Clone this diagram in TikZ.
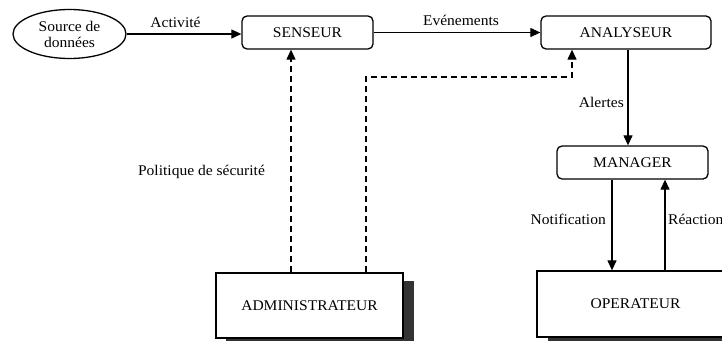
\documentclass[tikz,border=0pt]{standalone}
\usepackage{fontspec}
\setmainfont{Liberation Serif}[FakeStretch=1.05]
\usetikzlibrary{shapes.geometric,arrows.meta}
\begin{document}
\begin{tikzpicture}[x=1pt,y=-1pt,
  every node/.style={font=\fontsize{14.8}{16}\selectfont, inner sep=0pt},
  rbox/.style={draw, line width=1.3pt, rounded corners=5pt, minimum height=33pt},
  sbox/.style={draw, line width=1.3pt, fill=white, minimum height=65pt},
  shadowbox/.style={fill=black!80, draw=none},
  arr/.style={line width=1.2pt, -{Triangle[length=10pt,width=9pt]}},
  darr/.style={line width=1.2pt, dash pattern=on 6pt off 4pt, -{Triangle[length=10pt,width=9pt]}},
  lbl/.style={}]
\useasboundingbox (0,0) rectangle (722,340);
\clip (0,0) rectangle (722,340);
% nodes
\node[draw, ellipse, line width=1.3pt, minimum width=113pt, minimum height=49pt, align=center] (src) at (69.5,34) {Source de\\données};
\node[rbox, minimum width=131pt] (sens) at (307.5,32.5) {SENSEUR};
\node[rbox, minimum width=170pt] (ana) at (626,32.5) {ANALYSEUR};
\node[rbox, minimum width=151pt] (man) at (632.5,162.5) {MANAGER};
% shadows
\fill[shadowbox] (226,281) rectangle (414,346);
\fill[shadowbox] (548,279) rectangle (745,346);
\node[sbox, minimum width=187pt] (adm) at (309.5,305.5) {ADMINISTRATEUR};
\node[sbox, minimum width=197pt, minimum height=66pt] (op) at (635.5,304) {OPERATEUR};
% helper coordinates
\coordinate (xa) at (291,0);
\coordinate (xb) at (366,77);
\coordinate (xc) at (572,77);
\coordinate (xn) at (612,0);
\coordinate (xr) at (665,0);
\coordinate (xl) at (628,0);
% connectors
\draw[arr] (src.east) -- (sens.west |- src.east);
\draw[arr] (sens.east) -- (ana.west |- sens.east);
\draw[arr] (ana.south -| xl) -- (man.north -| xl);
\draw[arr] (man.south -| xn) -- (op.north -| xn);
\draw[arr] (op.north -| xr) -- (man.south -| xr);
\draw[darr] (adm.north -| xa) -- (sens.south -| xa);
\draw[darr] (adm.north -| xb) -- (xb) -- (xc) -- (ana.south -| xc);
% labels
\node[lbl] (l1) at (175.5,22) {Activité};
\node[lbl] (l2) at (461,20) {Evénements};
\node[lbl, anchor=east] (l3) at (624,102) {Alertes};
\node[lbl, anchor=east] (l4) at (606,219) {Notification};
\node[lbl, anchor=west] (l5) at (668,219) {Réaction};
\node[lbl] (l6) at (201.5,172) {Politique de sécurité};
\end{tikzpicture}
\end{document}
